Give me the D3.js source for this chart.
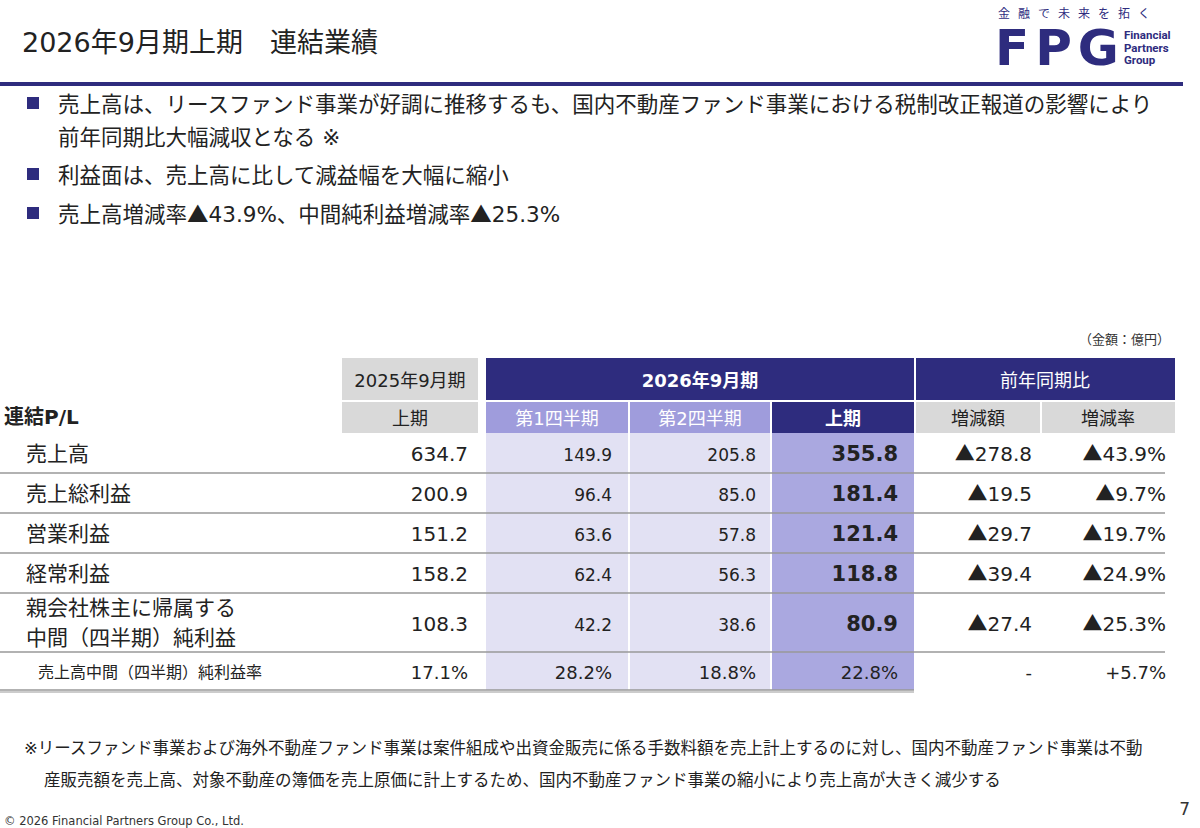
<!DOCTYPE html>
<html><head><meta charset="utf-8">
<script src="https://cdn.jsdelivr.net/npm/d3@7"></script>
<style>body{margin:0;background:#fff}svg{display:block;font-family:"DejaVu Sans","Noto Sans CJK JP",sans-serif}</style>
</head><body><svg id="s" width="1200" height="828"></svg>
<script>
var navy = "#2e2c7e";
var rowLabels = ["売上高", "売上総利益", "営業利益", "経常利益", ["親会社株主に帰属する", "中間（四半期）純利益"], "売上高中間（四半期）純利益率"];
var prevH1 = ["634.7", "200.9", "151.2", "158.2", "108.3", "17.1%"];
var q1 = ["149.9", "96.4", "63.6", "62.4", "42.2", "28.2%"];
var q2 = ["205.8", "85.0", "57.8", "56.3", "38.6", "18.8%"];
var h1 = ["355.8", "181.4", "121.4", "118.8", "80.9", "22.8%"];
var diffAmt = ["▲278.8", "▲19.5", "▲29.7", "▲39.4", "▲27.4", "-"];
var diffRate = ["▲43.9%", "▲9.7%", "▲19.7%", "▲24.9%", "▲25.3%", "+5.7%"];
var bullets = [["売上高は、リースファンド事業が好調に推移するも、国内不動産ファンド事業における税制改正報道の影響により", "前年同期比大幅減収となる ※"], ["利益面は、売上高に比して減益幅を大幅に縮小"], ["売上高増減率▲43.9%、中間純利益増減率▲25.3%"]];

var svg = d3.select("#s");

// put ▲ in the CJK font so it is as large as in the slide
function fill(sel, t) {
  t.split(/(▲)/).filter(function (p) { return p; }).forEach(function (p) {
    var ts = sel.append("tspan").text(p);
    if (p === "▲") ts.attr("font-family", "Noto Sans CJK JP");
  });
}

svg.append("text").attr("x", 22).attr("y", 52).attr("font-size", 27).attr("fill", "#222").text("2026年9月期上期　連結業績");
svg.append("rect").attr("x", 0).attr("y", 82).attr("width", 1183).attr("height", 4).attr("fill", navy);
// logo
svg.append("text").attr("x", 998).attr("y", 18).attr("font-size", 12).attr("font-family", "Noto Sans CJK JP").attr("fill", navy).attr("letter-spacing", 8).text("金融で未来を拓く");
svg.append("text").attr("x", 995).attr("y", 65).attr("font-size", 50).attr("font-weight", 900).attr("fill", navy).attr("letter-spacing", 6).text("FPG");
["Financial", "Partners", "Group"].forEach(function (t, i) {
  svg.append("text").attr("x", 1124).attr("y", 39 + i * 12.5).attr("font-size", 11.5).attr("font-weight", 700).attr("font-family", "Roboto").attr("fill", navy).text(t);
});

// bullets
var by = [112, 183, 222];
bullets.forEach(function (b, i) {
  svg.append("rect").attr("x", 27).attr("y", by[i] - 15).attr("width", 12).attr("height", 12).attr("fill", navy);
  b.forEach(function (t, j) {
    fill(svg.append("text").attr("x", 58).attr("y", by[i] + j * 33).attr("font-size", 21.5).attr("fill", "#222"), t);
  });
});

svg.append("text").attr("x", 1170).attr("y", 344).attr("text-anchor", "end").attr("font-size", 13).attr("fill", "#333").text("（金額：億円）");

// table
var rowY = [433, 473, 513, 553, 593, 652, 690];

function cell(x0, x1, y0, y1, c) {
  svg.append("rect").attr("x", x0).attr("y", y0).attr("width", x1 - x0).attr("height", y1 - y0).attr("fill", c);
}
cell(486, 628, 433, 690, "#e2e1f3");
cell(630, 770, 433, 690, "#e2e1f3");
cell(772, 914, 433, 690, "#aaa8e0");
cell(342, 478, 358, 400, "#d9d9d9");
cell(486, 914, 358, 400, navy);
cell(916, 1175, 358, 400, navy);
cell(342, 478, 402, 433, "#d9d9d9");
cell(486, 628, 402, 433, "#9f9cdc");
cell(630, 770, 402, 433, "#9f9cdc");
cell(772, 914, 402, 433, navy);
cell(916, 1040, 402, 433, "#d9d9d9");
cell(1042, 1175, 402, 433, "#d9d9d9");

function txt(x, y, t, o) {
  o = o || {};
  var el = svg.append("text").attr("x", x).attr("y", y).attr("text-anchor", o.a || "middle")
    .attr("font-size", o.s || 18).attr("font-weight", o.w || 400).attr("fill", o.c || "#222");
  fill(el, t);
}
txt(410, 387, "2025年9月期");
txt(700, 387, "2026年9月期", {c: "#fff", w: 700});
txt(1045, 387, "前年同期比", {c: "#fff"});
txt(410, 425, "上期");
txt(557, 425, "第1四半期", {c: "#fff"});
txt(700, 425, "第2四半期", {c: "#fff"});
txt(843, 425, "上期", {c: "#fff", w: 700});
txt(978, 425, "増減額");
txt(1108, 425, "増減率");
txt(4, 424, "連結P/L", {a: "start", s: 20, w: 700});

rowY.slice(1).forEach(function (y, i) {
  svg.append("line").attr("x1", 0).attr("x2", i === 5 ? 914 : 1165).attr("y1", y).attr("y2", y).attr("stroke", "#999").attr("stroke-width", 1.5);
});
svg.append("line").attr("x1", 0).attr("x2", 914).attr("y1", 692).attr("y2", 692).attr("stroke", "#999").attr("stroke-width", 1);

rowLabels.forEach(function (lab, i) {
  var y0 = rowY[i], y1 = rowY[i + 1], mid = (y0 + y1) / 2 + 8;
  var small = i === 5;
  if (Array.isArray(lab)) {
    txt(26, y0 + 22, lab[0], {a: "start", s: 21});
    txt(26, y0 + 52, lab[1], {a: "start", s: 21});
  } else {
    txt(small ? 38 : 26, mid - (small ? 1 : 0), lab, {a: "start", s: small ? 16 : 21});
  }
  var s = small ? 18 : 20;
  txt(468, mid, prevH1[i], {a: "end", s: s});
  txt(612, mid, q1[i], {a: "end", s: small ? 18 : 17});
  txt(756, mid, q2[i], {a: "end", s: small ? 18 : 17});
  txt(898, mid, h1[i], {a: "end", s: small ? 18 : 21, w: small ? 400 : 700});
  txt(1032, mid, diffAmt[i], {a: "end", s: s});
  txt(1166, mid, diffRate[i], {a: "end", s: s});
});

txt(24, 754, "※リースファンド事業および海外不動産ファンド事業は案件組成や出資金販売に係る手数料額を売上計上するのに対し、国内不動産ファンド事業は不動", {a: "start", s: 16.5});
txt(44, 786, "産販売額を売上高、対象不動産の簿価を売上原価に計上するため、国内不動産ファンド事業の縮小により売上高が大きく減少する", {a: "start", s: 16.5});
txt(4, 825, "© 2026 Financial Partners Group Co., Ltd.", {a: "start", s: 11.5, c: "#333"});
txt(1190, 815, "7", {a: "end", s: 17, c: "#333"});
</script></body></html>
